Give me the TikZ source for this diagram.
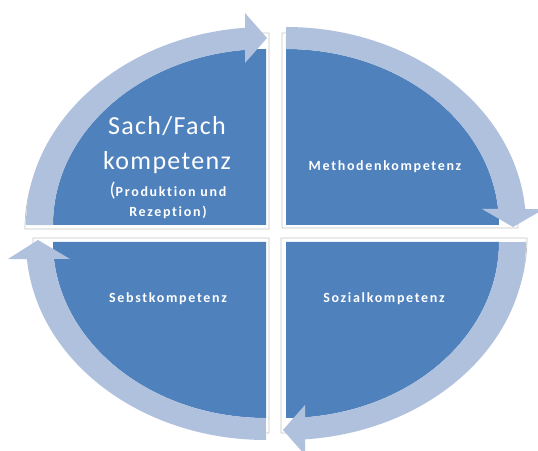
\documentclass[tikz,border=0pt]{standalone}
\usepackage{fontspec}
\setmainfont{Carlito}[Ligatures=NoCommon]
\newfontfamily\bigf{Carlito}[LetterSpace=5,Ligatures=NoCommon]
\newfontfamily\smallf{Carlito}[LetterSpace=12,Ligatures=NoCommon]
\definecolor{qblue}{HTML}{4F81BD}
\definecolor{qband}{HTML}{B0C1DE}
\definecolor{qframe}{HTML}{C4C4C4}
\begin{document}
\begin{tikzpicture}[x=1pt,y=1pt,
  frame/.style={draw=qframe, line width=0.8pt, fill=white},
  quad/.style={fill=qblue},
  band/.style={fill=qband},
  lbl/.style={text=white, inner sep=0pt, anchor=base},
  bigtxt/.style={font=\bigf\fontsize{26}{30}\selectfont},
  smalltxt/.style={font=\smallf\bfseries\fontsize{14}{16}\selectfont}]
\useasboundingbox (0,0) rectangle (538,450);
\clip (0,0) rectangle (538,450);
% frames
\draw[frame] (269,221) -- (25,221) arc[start angle=180,end angle=90,x radius=244,y radius=196] -- cycle;
\draw[frame] (282,222) -- (282,417) arc[start angle=90,end angle=0,x radius=236,y radius=195] -- cycle;
\draw[frame] (269,212) -- (269,17) arc[start angle=270,end angle=180,x radius=236,y radius=195] -- cycle;
\draw[frame] (281,212) -- (527,212) arc[start angle=0,end angle=-90,x radius=246,y radius=195] -- cycle;
% blue quarters
\fill[quad] (266,225) -- (53,225) arc[start angle=180,end angle=90,x radius=213,y radius=176] -- cycle;
\fill[quad] (286,225) -- (286,401) arc[start angle=90,end angle=0,x radius=213,y radius=176] -- cycle;
\fill[quad] (286,208) -- (499,208) arc[start angle=0,end angle=-90,x radius=213,y radius=176] -- cycle;
\fill[quad] (266,208) -- (266,32) arc[start angle=270,end angle=180,x radius=213,y radius=176] -- cycle;
% arrow bands
\fill[band] (26,225) arc[start angle=180,end angle=95,x radius=240,y radius=198]
  -- (245,437) -- (267,412) -- (245,387) -- (245,400.1)
  arc[start angle=95.66,end angle=180,x radius=213,y radius=176] -- cycle;
\fill[band] (286,423) arc[start angle=90,end angle=4.63,x radius=240,y radius=198]
  -- (544,241) -- (513,223) -- (482,241) -- (498.1,241)
  arc[start angle=5.22,end angle=90,x radius=213,y radius=176] -- cycle;
\fill[band] (526,208) arc[start angle=0,end angle=-85.46,x radius=240,y radius=198]
  -- (305,-5) -- (283,20) -- (305,45) -- (305,32.7)
  arc[start angle=-84.88,end angle=0,x radius=213,y radius=176] -- cycle;
\fill[band] (266,10) arc[start angle=270,end angle=184.93,x radius=240,y radius=198]
  -- (8,191) -- (38,210) -- (70,191) -- (54,191)
  arc[start angle=185.54,end angle=270,x radius=213,y radius=176] -- cycle;
% labels
\node[lbl, bigtxt] (t1) at (167,315) {Sach/Fach};
\node[lbl, bigtxt] (t2) at (167,280) {kompetenz};
\node[lbl] (t3) at (168,253) {{\fontsize{20}{24}\selectfont(}{\smallf\bfseries\fontsize{14}{16}\selectfont Produktion und}};
\node[lbl, smalltxt] (t4) at (168,233) {Rezeption)};
\node[lbl, smalltxt] (m) at (385,279) {Methodenkompetenz};
\node[lbl, smalltxt] (s1) at (168,147) {Sebstkompetenz};
\node[lbl, smalltxt] (s2) at (384,147) {Sozialkompetenz};
\end{tikzpicture}
\end{document}
